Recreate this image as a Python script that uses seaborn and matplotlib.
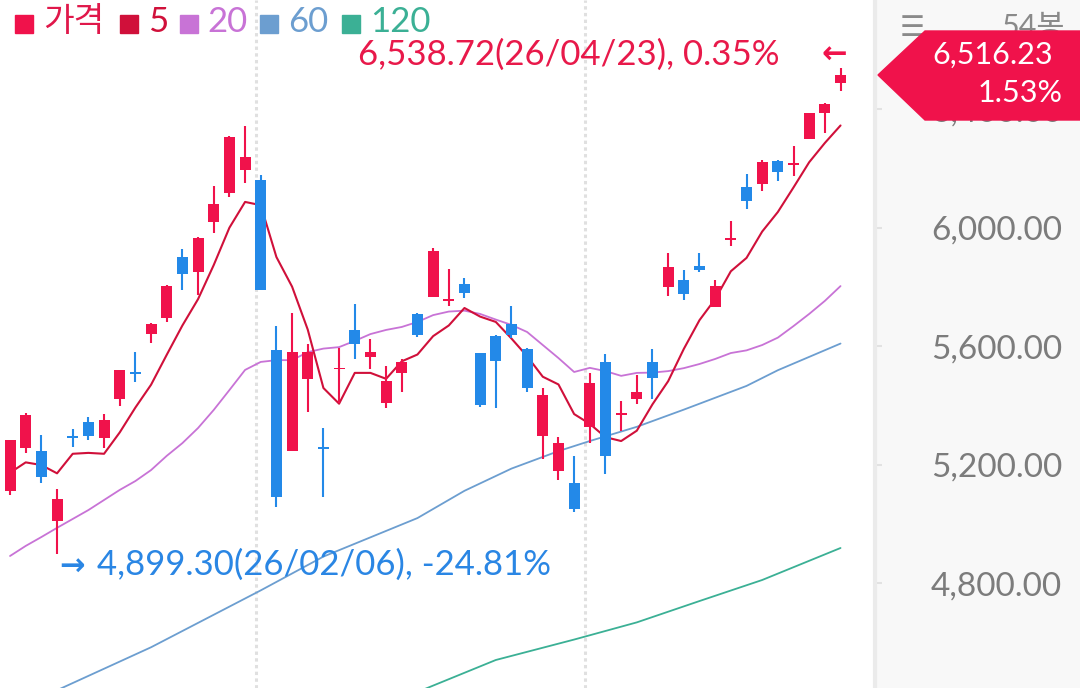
import matplotlib
matplotlib.use("Agg")
import matplotlib.pyplot as plt
import seaborn as sns
import pandas as pd
from matplotlib.patches import Polygon, Rectangle

# daily candles (54 bars)
opens = [5112, 5258, 5246, 5011, 5295, 5345, 5291, 5422, 5511, 5640,
         5694, 5900, 5852, 6020, 6118, 6195, 6161, 5587, 5247, 5488,
         5259, 5522, 5655, 5565, 5409, 5509, 5709, 5765, 5754, 5810,
         5576, 5634, 5675, 5590, 5298, 5180, 5139, 5328, 5548, 5369,
         5421, 5548, 5801, 5824, 5872, 5733, 5958, 6138, 6148, 6225,
         6212, 6299, 6388, 6487]
highs = [5285, 5374, 5300, 5117, 5320, 5360, 5371, 5521, 5580, 5677,
         5807, 5928, 5967, 6141, 6311, 6344, 6178, 5668, 5711, 5607,
         5323, 5593, 5743, 5624, 5533, 5557, 5713, 5931, 5860, 5831,
         5578, 5638, 5737, 5593, 5458, 5293, 5230, 5509, 5573, 5415,
         5503, 5591, 5916, 5857, 5914, 5824, 6023, 6180, 6229, 6229,
         6276, 6386, 6420, 6538.72]
lows = [5098, 5241, 5139, 4899.30, 5261, 5284, 5256, 5398, 5478, 5612,
        5683, 5790, 5773, 5981, 6105, 6152, 5790, 5056, 5247, 5379,
        5092, 5409, 5557, 5523, 5391, 5447, 5632, 5765, 5737, 5762,
        5396, 5393, 5629, 5445, 5218, 5149, 5042, 5272, 5169, 5315,
        5404, 5421, 5771, 5756, 5850, 5733, 5938, 6063, 6125, 6159,
        6175, 6299, 6319, 6462]
closes = [5284, 5368, 5160, 5084, 5290, 5298, 5351, 5520, 5507, 5674,
          5804, 5844, 5966, 6080, 6305, 6240, 5790, 5090, 5580, 5582,
          5254, 5526, 5608, 5580, 5484, 5548, 5638, 5921, 5758, 5779,
          5402, 5551, 5638, 5458, 5435, 5272, 5050, 5475, 5231, 5373,
          5447, 5492, 5868, 5776, 5857, 5803, 5962, 6090, 6223, 6189,
          6216, 6386, 6418, 6516.23]

# moving averages
ma5 = [5173, 5208, 5199, 5171, 5237, 5240, 5237, 5309, 5393, 5470,
       5571, 5670, 5759, 5874, 6000, 6087, 6076, 5901, 5801, 5656,
       5459, 5406, 5510, 5510, 5490, 5549, 5572, 5634, 5670, 5729,
       5700, 5682, 5626, 5566, 5497, 5471, 5371, 5338, 5293, 5280,
       5315, 5404, 5482, 5591, 5688, 5759, 5853, 5898, 5987, 6053,
       6136, 6221, 6286, 6345]
ma20 = [4892, 4926, 4956, 4987, 5017, 5047, 5081, 5115, 5145, 5182,
        5230, 5273, 5324, 5385, 5452, 5520, 5547, 5553, 5553, 5580,
        5592, 5597, 5618, 5641, 5655, 5665, 5682, 5705, 5717, 5720,
        5709, 5690, 5672, 5648, 5604, 5560, 5513, 5527, 5516, 5500,
        5510, 5511, 5516, 5526, 5540, 5557, 5577, 5586, 5604, 5629,
        5668, 5709, 5753, 5803]
ma60_idx = [3, 9, 16, 20, 26, 29, 32, 35, 37, 40, 43, 47, 49, 53]
ma60 = [4439, 4584, 4776, 4890, 5020, 5112, 5187, 5246, 5280, 5328,
        5386, 5466, 5519, 5609]
ma120_idx = [26, 31, 36, 40, 44, 48, 53]
ma120 = [4433, 4541, 4610, 4668, 4740, 4811, 4919]

month_breaks = [15.7, 36.7]
y_ticks = [4800, 5200, 5600, 6000, 6400]
legend_names = ["가격", "5", "20", "60", "120"]
last_price = "6,516.23"
last_change = "1.53%"
high_note = "6,538.72(26/04/23), 0.35%"
low_note = "4,899.30(26/02/06), -24.81%"
bar_count = "54봉"

UP = "#f0124b"
DOWN = "#2389e8"
C5, C20, C60, C120 = "#d0103a", "#c873d6", "#6c9ed0", "#3bb095"

sns.set_theme(style="white")
plt.rcParams['font.family'] = ['Lato', 'Noto Sans CJK KR', 'DejaVu Sans']

W, H = 1080, 688
fig = plt.figure(figsize=(W / 100, H / 100), dpi=100, facecolor="#f8f8f8")
ax = fig.add_axes([0, 0, 875 / W, 1])
ax.set_facecolor("white")


def fx(x):
    return x / W


def fy(y):
    return 1 - y / H


# month separators
for b in month_breaks:
    ax.axvline(b, color="#e0e0e0", lw=2.2, ls=(0, (1.1, 1.1)), zorder=1)

# moving average lines
idx = list(range(len(closes)))
sns.lineplot(x=ma120_idx, y=ma120, ax=ax, color=C120, lw=1.3, zorder=2)
sns.lineplot(x=ma60_idx, y=ma60, ax=ax, color=C60, lw=1.3, zorder=2)
sns.lineplot(x=idx, y=ma20, ax=ax, color=C20, lw=1.3, zorder=2)
sns.lineplot(x=idx, y=ma5, ax=ax, color=C5, lw=1.5, zorder=2)

# candles
df = pd.DataFrame({"i": idx, "o": opens, "h": highs, "l": lows, "c": closes})
df["color"] = [UP if c >= o else DOWN for o, c in zip(df.o, df.c)]
df["bottom"] = df[["o", "c"]].min(axis=1)
df["height"] = (df.c - df.o).abs().clip(lower=6)
ax.vlines(df.i, df.l, df.h, colors=df.color, lw=1.5, zorder=3)
ax.bar(df.i, df.height, bottom=df.bottom, width=0.7, color=df.color,
       linewidth=0, zorder=4)

ax.set_xlim(-0.64, 55.2)
ax.set_ylim(4446.5, 6768.5)

# right price axis
ax.yaxis.set_ticks_position('right')
ax.set_yticks(y_ticks)
ax.set_yticklabels([f"{v:,.2f}" for v in y_ticks], ha='right')
ax.tick_params(axis='y', length=5, width=1.5, color="#e2e2e2", pad=129.6,
               labelsize=24, labelcolor="#7c7c7c")
ax.tick_params(axis='x', bottom=False, labelbottom=False)
ax.set_xlabel("")
ax.set_ylabel("")
for s in ["left", "top", "bottom"]:
    ax.spines[s].set_visible(False)
ax.spines["right"].set_color("#ebebeb")
ax.spines["right"].set_linewidth(3)

# legend
sq_x = [15, 120, 180, 260, 342]
tx_x = [43, 148, 207, 288, 370]
sq_c = [UP, C5, C20, C60, C120]
tx_c = ["#e0174a", C5, C20, C60, C120]
tx_size = [24, 25, 25, 25, 25]
for name, sx, tx, sc, tc, fs in zip(legend_names, sq_x, tx_x, sq_c, tx_c, tx_size):
    fig.add_artist(Rectangle((fx(sx), fy(33)), 18 / W, 18 / H,
                             transform=fig.transFigure, color=sc, zorder=6))
    fig.text(fx(tx), fy(22), name, color=tc, fontsize=fs, va='center',
             ha='left', zorder=6)

# high / low notes
fig.text(fx(780), fy(55), high_note, color="#e8194a", fontsize=25,
         ha='right', va='center', zorder=6)
fig.text(fx(834), fy(55), "←", color=UP, fontsize=22, ha='center',
         va='center', fontweight='bold', family=['DejaVu Sans'], zorder=6)
fig.text(fx(72), fy(567), "→", color="#2a86e4", fontsize=22, ha='center',
         va='center', fontweight='bold', family=['DejaVu Sans'], zorder=6)
fig.text(fx(97), fy(565), low_note, color="#2a86e4", fontsize=25,
         ha='left', va='center', zorder=6)

# top right header
fig.text(fx(912), fy(28), "☰", color="#8a8a8a", fontsize=20, ha='center',
         va='center', family=['DejaVu Sans'], zorder=6)
fig.text(fx(1065), fy(27), bar_count, color="#8a8a8a", fontsize=22,
         ha='right', va='center', zorder=6)

# last price label
box = Polygon([(fx(878), fy(75)), (fx(925), fy(31)), (fx(1080), fy(31)),
               (fx(1080), fy(120)), (fx(925), fy(120))], closed=True,
              transform=fig.transFigure, color=UP, zorder=7)
fig.add_artist(box)
fig.text(fx(1053), fy(55), last_price, color="white", fontsize=22,
         ha='right', va='center', zorder=8)
fig.text(fx(1063), fy(93), last_change, color="white", fontsize=22,
         ha='right', va='center', zorder=8)

fig.savefig("out.png", dpi=100, facecolor=fig.get_facecolor())
